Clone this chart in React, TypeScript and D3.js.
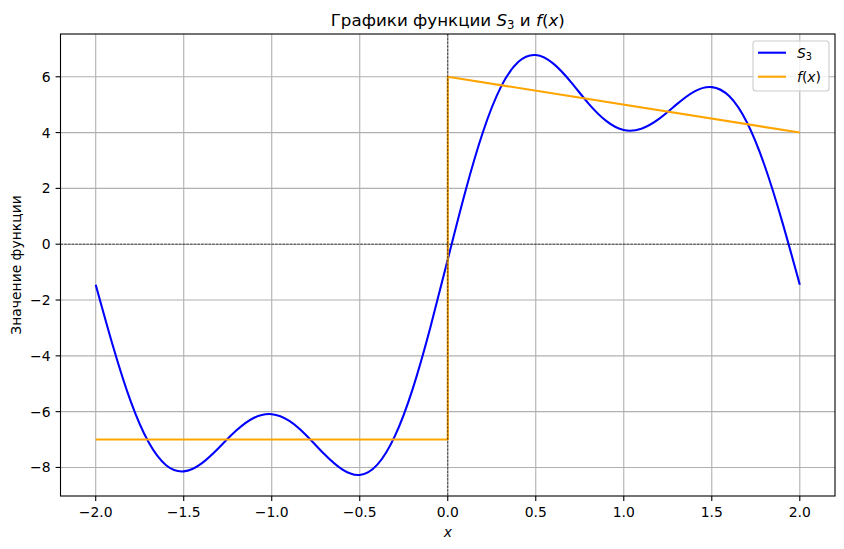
import * as d3 from "d3";

// S3 partial sum at 0.1 steps
const xs = [
  -2.0, -1.9, -1.8, -1.7, -1.6, -1.5, -1.4, -1.3, -1.2, -1.1, -1.0, -0.9, -0.8, -0.7,
  -0.6, -0.5, -0.4, -0.3, -0.2, -0.1, 0.0, 0.1, 0.2, 0.3, 0.4, 0.5, 0.6, 0.7, 0.8, 0.9,
  1.0, 1.1, 1.2, 1.3, 1.4, 1.5, 1.6, 1.7, 1.8, 1.9, 2.0,
];
const s3 = [
  -1.45, -3.69, -5.65, -7.09, -7.92, -8.14, -7.86, -7.29, -6.67, -6.22, -6.09, -6.33,
  -6.87, -7.53, -8.07, -8.27, -7.9, -6.87, -5.2, -3.01, -0.55, 1.89, 4.02, 5.61, 6.53,
  6.78, 6.47, 5.81, 5.04, 4.42, 4.09, 4.14, 4.49, 5.01, 5.47, 5.63, 5.3, 4.36, 2.82,
  0.81, -1.45,
];
// piecewise f(x)
const fx = [-2, 0, 0, 2];
const fy = [-7, -7, 6, 4];

const xTicks = [-2.0, -1.5, -1.0, -0.5, 0.0, 0.5, 1.0, 1.5, 2.0];
const yTicks = [-8, -6, -4, -2, 0, 2, 4, 6];

const W = 844;
const H = 549;
const M = { left: 60.5, right: 835, top: 34, bottom: 496 };
const FONT = "'DejaVu Sans', sans-serif";

const minus = (s: string) => s.replace("-", "\u2212");

export default function App() {
  const allY = [...s3, ...fy];
  const [ymin, ymax] = d3.extent(allY) as [number, number];
  const pad = (ymax - ymin) * 0.05;
  const x = d3.scaleLinear().domain([-2.2, 2.2]).range([M.left, M.right]);
  const y = d3.scaleLinear().domain([ymin - pad, ymax + pad]).range([M.bottom, M.top]);

  const sLine = d3
    .line<number>()
    .x((_, i) => x(xs[i]))
    .y((d) => y(d))
    .curve(d3.curveNatural);
  const fLine = d3
    .line<number>()
    .x((_, i) => x(fx[i]))
    .y((d) => y(d));

  const tick = 4.9;
  const grid = "#b0b0b0";

  return (
    <svg
      width={W}
      height={H}
      style={{ position: "absolute", left: 0, top: 0, background: "#fff" }}
      fontFamily={FONT}
    >
      <defs>
        <clipPath id="plot">
          <rect x={M.left} y={M.top} width={M.right - M.left} height={M.bottom - M.top} />
        </clipPath>
      </defs>

      {/* grid */}
      {xTicks.map((t) => (
        <line key={"gx" + t} x1={x(t)} x2={x(t)} y1={M.top} y2={M.bottom} stroke={grid} strokeWidth={1.1} />
      ))}
      {yTicks.map((t) => (
        <line key={"gy" + t} x1={M.left} x2={M.right} y1={y(t)} y2={y(t)} stroke={grid} strokeWidth={1.1} />
      ))}

      <g clipPath="url(#plot)">
        <path d={sLine(s3) ?? ""} fill="none" stroke="blue" strokeWidth={2.08} strokeLinejoin="round" />
        <path d={fLine(fy) ?? ""} fill="none" stroke="orange" strokeWidth={2.08} strokeLinejoin="round" />
        <line x1={M.left} x2={M.right} y1={y(0)} y2={y(0)} stroke="black" strokeWidth={0.7} strokeDasharray="2.6 1.1" />
        <line x1={x(0)} x2={x(0)} y1={M.top} y2={M.bottom} stroke="black" strokeWidth={0.7} strokeDasharray="2.6 1.1" />
      </g>

      {/* spines */}
      <rect
        x={M.left}
        y={M.top}
        width={M.right - M.left}
        height={M.bottom - M.top}
        fill="none"
        stroke="black"
        strokeWidth={1.1}
      />

      {/* x ticks */}
      {xTicks.map((t) => (
        <g key={"tx" + t}>
          <line x1={x(t)} x2={x(t)} y1={M.bottom} y2={M.bottom + tick} stroke="black" strokeWidth={1.1} />
          <text x={x(t)} y={M.bottom + 21} textAnchor="middle" fontSize={13.9}>
            {minus(t.toFixed(1))}
          </text>
        </g>
      ))}
      {/* y ticks */}
      {yTicks.map((t) => (
        <g key={"ty" + t}>
          <line x1={M.left - tick} x2={M.left} y1={y(t)} y2={y(t)} stroke="black" strokeWidth={1.1} />
          <text x={M.left - 10} y={y(t) + 5} textAnchor="end" fontSize={13.9}>
            {minus(String(t))}
          </text>
        </g>
      ))}

      {/* axis labels */}
      <text x={(M.left + M.right) / 2} y={537} textAnchor="middle" fontSize={13.9} fontStyle="italic">
        x
      </text>
      <text
        transform={`translate(21,${(M.top + M.bottom) / 2}) rotate(-90)`}
        textAnchor="middle"
        fontSize={13.9}
      >
        Значение функции
      </text>

      {/* title */}
      <text x={(M.left + M.right) / 2} y={26} textAnchor="middle" fontSize={16.7}>
        Графики функции <tspan fontStyle="italic">S</tspan>
        <tspan fontSize={11.7} dy={3}>3</tspan>
        <tspan dy={-3}> и </tspan>
        <tspan fontStyle="italic">f</tspan>(<tspan fontStyle="italic">x</tspan>)
      </text>

      {/* legend */}
      <g>
        <rect x={753} y={41} width={76} height={50} rx={3} fill="white" fillOpacity={0.8} stroke="#cccccc" strokeWidth={1.1} />
        <line x1={758} x2={786} y1={52.7} y2={52.7} stroke="blue" strokeWidth={2.08} />
        <line x1={758} x2={786} y1={76.7} y2={76.7} stroke="orange" strokeWidth={2.08} />
        <text x={797} y={57.5} fontSize={13.9}>
          <tspan fontStyle="italic">S</tspan>
          <tspan fontSize={9.7} dy={2.5}>3</tspan>
        </text>
        <text x={797} y={81.5} fontSize={13.9}>
          <tspan fontStyle="italic">f</tspan>(<tspan fontStyle="italic">x</tspan>)
        </text>
      </g>
    </svg>
  );
}
